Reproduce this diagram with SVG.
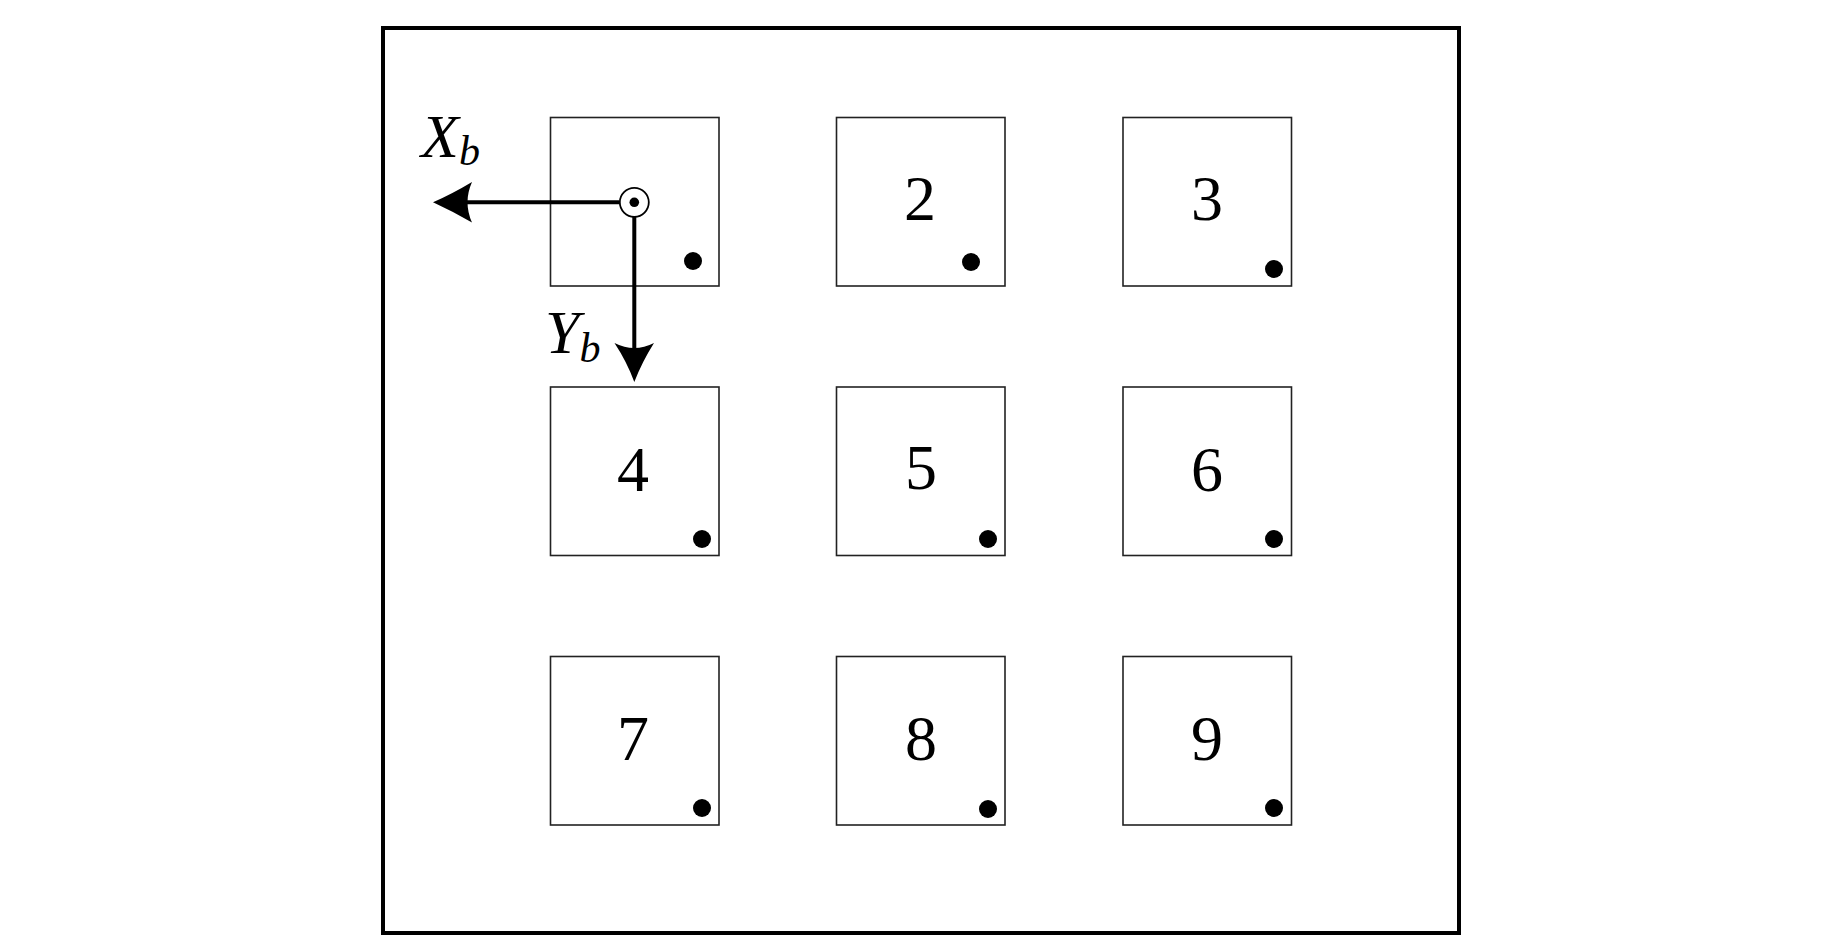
<svg xmlns="http://www.w3.org/2000/svg" width="1843" height="945" viewBox="0 0 1843 945">
<style>
.cell{fill:#fff;stroke:#222;stroke-width:1.6}
.dot{fill:#000}
text{font-family:'Liberation Serif','Times New Roman',Times,serif}
.num{font-size:64px;fill:#000;text-anchor:middle}
.lab{font-style:italic;fill:#000}
.axis{stroke:#000;stroke-width:4;fill:none}
</style>
<rect x="0" y="0" width="1843" height="945" fill="#fff"/>
<rect id="frame" x="383" y="28" width="1076" height="905" fill="none" stroke="#000" stroke-width="4"/>
<g id="cell1"><rect class="cell" x="550.5" y="117.5" width="168.5" height="168.5"/><circle class="dot" cx="693" cy="261" r="9"/></g>
<g id="cell2"><rect class="cell" x="836.5" y="117.5" width="168.5" height="168.5"/><text class="num" x="920" y="220">2</text><circle class="dot" cx="971" cy="262" r="9"/></g>
<g id="cell3"><rect class="cell" x="1123" y="117.5" width="168.5" height="168.5"/><text class="num" x="1207" y="220">3</text><circle class="dot" cx="1274" cy="269" r="9"/></g>
<g id="cell4"><rect class="cell" x="550.5" y="387" width="168.5" height="168.5"/><text class="num" x="633" y="491">4</text><circle class="dot" cx="702" cy="539" r="9"/></g>
<g id="cell5"><rect class="cell" x="836.5" y="387" width="168.5" height="168.5"/><text class="num" x="921" y="489">5</text><circle class="dot" cx="988" cy="539" r="9"/></g>
<g id="cell6"><rect class="cell" x="1123" y="387" width="168.5" height="168.5"/><text class="num" x="1207" y="491">6</text><circle class="dot" cx="1274" cy="539" r="9"/></g>
<g id="cell7"><rect class="cell" x="550.5" y="656.5" width="168.5" height="168.5"/><text class="num" x="633" y="760">7</text><circle class="dot" cx="702" cy="808" r="9"/></g>
<g id="cell8"><rect class="cell" x="836.5" y="656.5" width="168.5" height="168.5"/><text class="num" x="921" y="760">8</text><circle class="dot" cx="988" cy="809" r="9"/></g>
<g id="cell9"><rect class="cell" x="1123" y="656.5" width="168.5" height="168.5"/><text class="num" x="1207" y="760">9</text><circle class="dot" cx="1274" cy="808" r="9"/></g>
<g id="connectors">
<line class="axis" x1="619" y1="202.3" x2="462" y2="202.3"/>
<path d="M433,202.3 Q452,194 472,182 Q463,202.3 472,222.6 Q452,211 433,202.3 Z" fill="#000"/>
<line class="axis" x1="634.3" y1="217" x2="634.3" y2="352"/>
<path d="M634.3,382 Q627,362 614.5,343 Q634.3,353 654,343 Q642,362 634.3,382 Z" fill="#000"/>
</g>
<g id="origin">
<circle cx="634.3" cy="202.3" r="14.5" fill="#fff" stroke="#000" stroke-width="1.8"/>
<circle cx="634.3" cy="202.3" r="4.8" fill="#000"/>
</g>
<g id="label-xb"><text class="lab" x="421" y="157" font-size="62">X<tspan font-size="42" dy="8">b</tspan></text></g>
<g id="label-yb"><text class="lab" x="545" y="353" font-size="62">Y<tspan font-size="42" dy="9">b</tspan></text></g>
</svg>
